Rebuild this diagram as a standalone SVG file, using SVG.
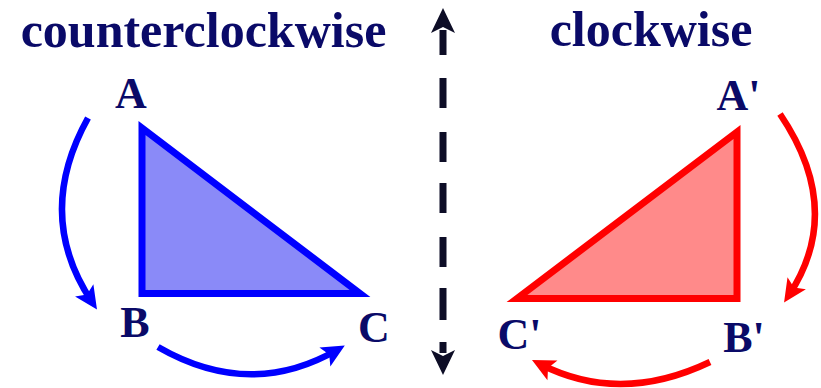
<svg xmlns="http://www.w3.org/2000/svg" width="821" height="388" viewBox="0 0 821 388">
<style>
.t{font-family:"Liberation Serif","Times New Roman",serif;font-weight:bold;fill:#0a0a68}
.title{font-size:50px}
.lbl{font-size:44px;text-anchor:middle}
.arcB{fill:none;stroke:#0000ff;stroke-width:6.5;stroke-linecap:butt;marker-end:url(#ahB)}
.arcR{fill:none;stroke:#ff0000;stroke-width:6.5;stroke-linecap:butt;marker-end:url(#ahR)}
</style>
<defs>
<marker id="ahB" markerUnits="userSpaceOnUse" markerWidth="30" markerHeight="30" refX="14" refY="11" orient="auto" overflow="visible"><path d="M0,0 L23,11 L0,22 L5,11 Z" fill="#0000ff"/></marker>
<marker id="ahR" markerUnits="userSpaceOnUse" markerWidth="30" markerHeight="30" refX="14" refY="11" orient="auto" overflow="visible"><path d="M0,0 L23,11 L0,22 L5,11 Z" fill="#ff0000"/></marker>
<marker id="ahK" markerUnits="userSpaceOnUse" markerWidth="30" markerHeight="30" refX="3" refY="12" orient="auto-start-reverse" overflow="visible"><path d="M0,0 L25,12 L0,24 L6,12 Z" fill="#0d0d26"/></marker>
</defs>
<text class="t title" x="203.5" y="47" text-anchor="middle">counterclockwise</text>
<text class="t title" x="651" y="46" text-anchor="middle">clockwise</text>
<g id="axis">
<path d="M443,30 L443,353" fill="none" stroke="#0d0d26" stroke-width="7" stroke-dasharray="25 23 30 24 30 21 30 24 30 21 32 22 11 50" marker-start="url(#ahK)" marker-end="url(#ahK)"/>
</g>
<g id="triangle-ccw">
<polygon points="142,128 142,293.5 360,293.5" fill="#8a8af8" stroke="#0000ff" stroke-width="7"/>
</g>
<g id="triangle-cw">
<polygon points="737,132 737,298.5 517,298.5" fill="#ff8a8a" stroke="#ff0000" stroke-width="7"/>
</g>
<g id="A"><text class="t lbl" x="131" y="108">A</text></g>
<g id="B"><text class="t lbl" x="135" y="337">B</text></g>
<g id="C"><text class="t lbl" x="374" y="342">C</text></g>
<g id="A2"><text class="t lbl" x="738.5" y="110">A'</text></g>
<g id="B2"><text class="t lbl" x="744" y="352">B'</text></g>
<g id="C2"><text class="t lbl" x="519.5" y="349">C'</text></g>
<g id="connectors">
<path class="arcB" d="M88,118 Q34,215 92,302"/>
<path class="arcB" d="M158,347 Q250,400 337,350"/>
<path class="arcR" d="M780,114 Q845,210 789,295"/>
<path class="arcR" d="M710,362 Q620,405 540,364"/>
</g>
</svg>
